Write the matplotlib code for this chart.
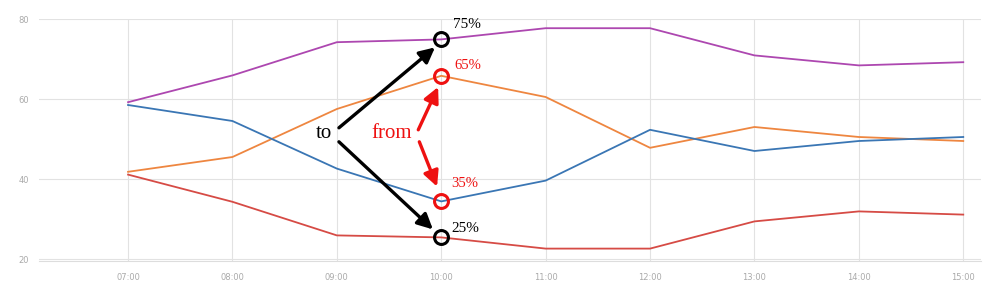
import matplotlib
matplotlib.use('Agg')
import matplotlib.pyplot as plt

hours = [7, 8, 9, 10, 11, 12, 13, 14, 15]
hour_labels = ['07:00', '08:00', '09:00', '10:00', '11:00', '12:00', '13:00', '14:00', '15:00']

purple = [59.3, 66.0, 74.3, 75.0, 77.8, 77.8, 71.0, 68.5, 69.3]
orange = [41.9, 45.6, 57.6, 65.9, 60.6, 47.9, 53.1, 50.6, 49.6]
blue = [58.6, 54.6, 42.7, 34.5, 39.7, 52.4, 47.1, 49.6, 50.6]
red = [41.2, 34.4, 26.0, 25.5, 22.7, 22.7, 29.5, 32.0, 31.2]

yticks = [20, 40, 60, 80]

# highlighted points at 10:00
to_hour = 10
to_vals = [75, 25.5]
from_vals = [65.9, 34.5]
to_labels = ['75%', '25%']
from_labels = ['65%', '35%']

fig = plt.figure(figsize=(9.99, 2.92), dpi=100)
ax = fig.add_axes([39 / 999, 31 / 292, 942 / 999, 242 / 292])

ax.plot(hours, purple, color='#ad47b0', lw=1.3)
ax.plot(hours, orange, color='#ee8640', lw=1.3)
ax.plot(hours, blue, color='#3a76b4', lw=1.3)
ax.plot(hours, red, color='#d64b45', lw=1.3)

ax.set_xlim(6.147, 15.17)
ax.set_ylim(19.6, 80.1)
ax.set_xticks(hours)
ax.set_xticklabels(hour_labels)
ax.set_yticks(yticks)
ax.grid(True, color='#e2e2e2', lw=0.8)
ax.set_axisbelow(True)
for s in ['top', 'right', 'left']:
    ax.spines[s].set_visible(False)
ax.spines['bottom'].set_color('#dddddd')
ax.tick_params(length=0, labelsize=6, labelcolor='#aaaaaa', pad=9)
ax.tick_params(axis='y', pad=7)

serif = 'Liberation Serif'

# circles
ax.plot([to_hour] * 2, to_vals, 'o', ms=10, mfc='none', mec='black', mew=2.2, zorder=5)
ax.plot([to_hour] * 2, from_vals, 'o', ms=10, mfc='none', mec='#ee1111', mew=2.2, zorder=5)

ax.text(10.11, 78.7, to_labels[0], family=serif, fontsize=11, color='black', va='center')
ax.text(10.13, 68.6, from_labels[0], family=serif, fontsize=10.5, color='#ee1111', va='center')
ax.text(10.10, 38.9, from_labels[1], family=serif, fontsize=10.5, color='#ee1111', va='center')
ax.text(10.10, 27.8, to_labels[1], family=serif, fontsize=11, color='black', va='center')

ax.text(8.877, 51.4, 'to', family=serif, fontsize=15, color='black', va='center', ha='center')
ax.text(9.529, 51.4, 'from', family=serif, fontsize=15, color='#ee1111', va='center', ha='center')

black_arrow = dict(arrowstyle='-|>', lw=2.4, color='black', mutation_scale=23, shrinkA=0, shrinkB=0)
red_arrow = dict(arrowstyle='-|>', lw=2.4, color='#ee1111', mutation_scale=23, shrinkA=0, shrinkB=0)
ax.annotate('', xy=(9.94, 73.0), xytext=(9.02, 52.9), arrowprops=black_arrow)
ax.annotate('', xy=(9.92, 27.5), xytext=(9.02, 49.4), arrowprops=black_arrow)
ax.annotate('', xy=(9.97, 63.1), xytext=(9.78, 52.4), arrowprops=red_arrow)
ax.annotate('', xy=(9.96, 38.2), xytext=(9.79, 49.4), arrowprops=red_arrow)

fig.savefig('out.png', dpi=100)
